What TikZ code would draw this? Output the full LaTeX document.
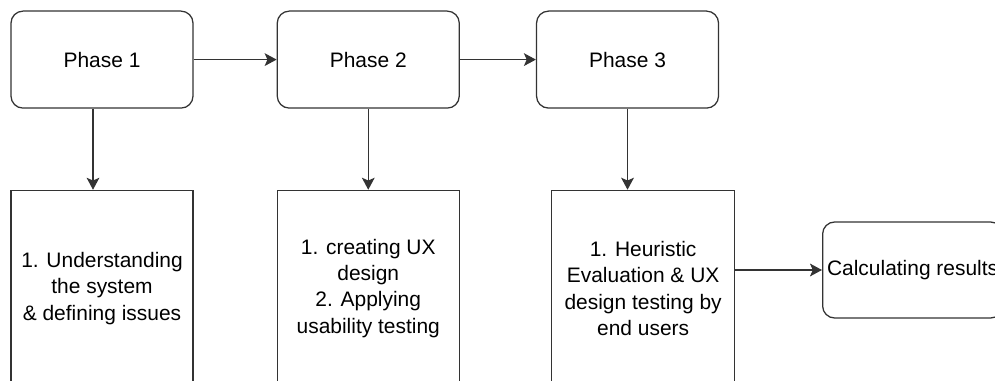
\documentclass[tikz,border=0pt]{standalone}
\definecolor{linegray}{RGB}{51,51,51}
\usepackage{fontspec}
\setmainfont{Liberation Sans}
\usetikzlibrary{positioning, arrows.meta}

\begin{document}
\begin{tikzpicture}[
    phase/.style={draw=linegray, line width=0.9pt, rounded corners=0.3cm,
      minimum width=4.55cm, minimum height=2.425cm, inner sep=2pt,
      font=\fontsize{14.9}{18.8}\selectfont, align=center},
    task/.style={draw=linegray, line width=0.9pt,
      minimum width=4.55cm, minimum height=4.9cm, inner sep=2pt,
      font=\fontsize{14.9}{18.8}\selectfont, align=center},
    result/.style={phase, minimum width=4.5cm, minimum height=2.4cm},
    flow/.style={draw=linegray, line width=0.9pt,
      -{Stealth[length=0.3cm, width=0.32cm, inset=0.07cm]}},
    node distance=2.025cm,
  ]
    \useasboundingbox (0,0) rectangle (24.875,-9.525);
    \clip (0,0) rectangle (24.875,-9.525);

    % phases
    \node[phase] (p1) at (2.55, -1.49) {Phase 1};
    \node[phase, right=2.075cm of p1] (p2) {Phase 2};
    \node[phase, right=1.9cm of p2] (p3) {Phase 3};

    % tasks of each phase
    \node[task, below=of p1] (t1) {1. Understanding\\the system\\\& defining issues};
    \node[task, below=of p2] (t2) {1. creating UX\\design\\2. Applying\\usability testing};
    \node[task, below=of p3, xshift=0.39cm, minimum width=4.575cm] (t3)
      {1. Heuristic\\Evaluation \& UX\\design testing by\\end users};

    \node[result, anchor=west] (res) at (20.55, -6.75) {Calculating results};

    \draw[flow] (p1) -- (p2);
    \draw[flow] (p2) -- (p3);
    \draw[flow] ([xshift=-0.225cm]p1.south) -- ([xshift=-0.225cm]p1.south |- t1.north);
    \draw[flow] (p2) -- (t2);
    \draw[flow] (p3.south) -- (p3.south |- t3.north);
    \draw[flow] (t3.east |- res.west) -- (res.west);
  \end{tikzpicture}
\end{document}
